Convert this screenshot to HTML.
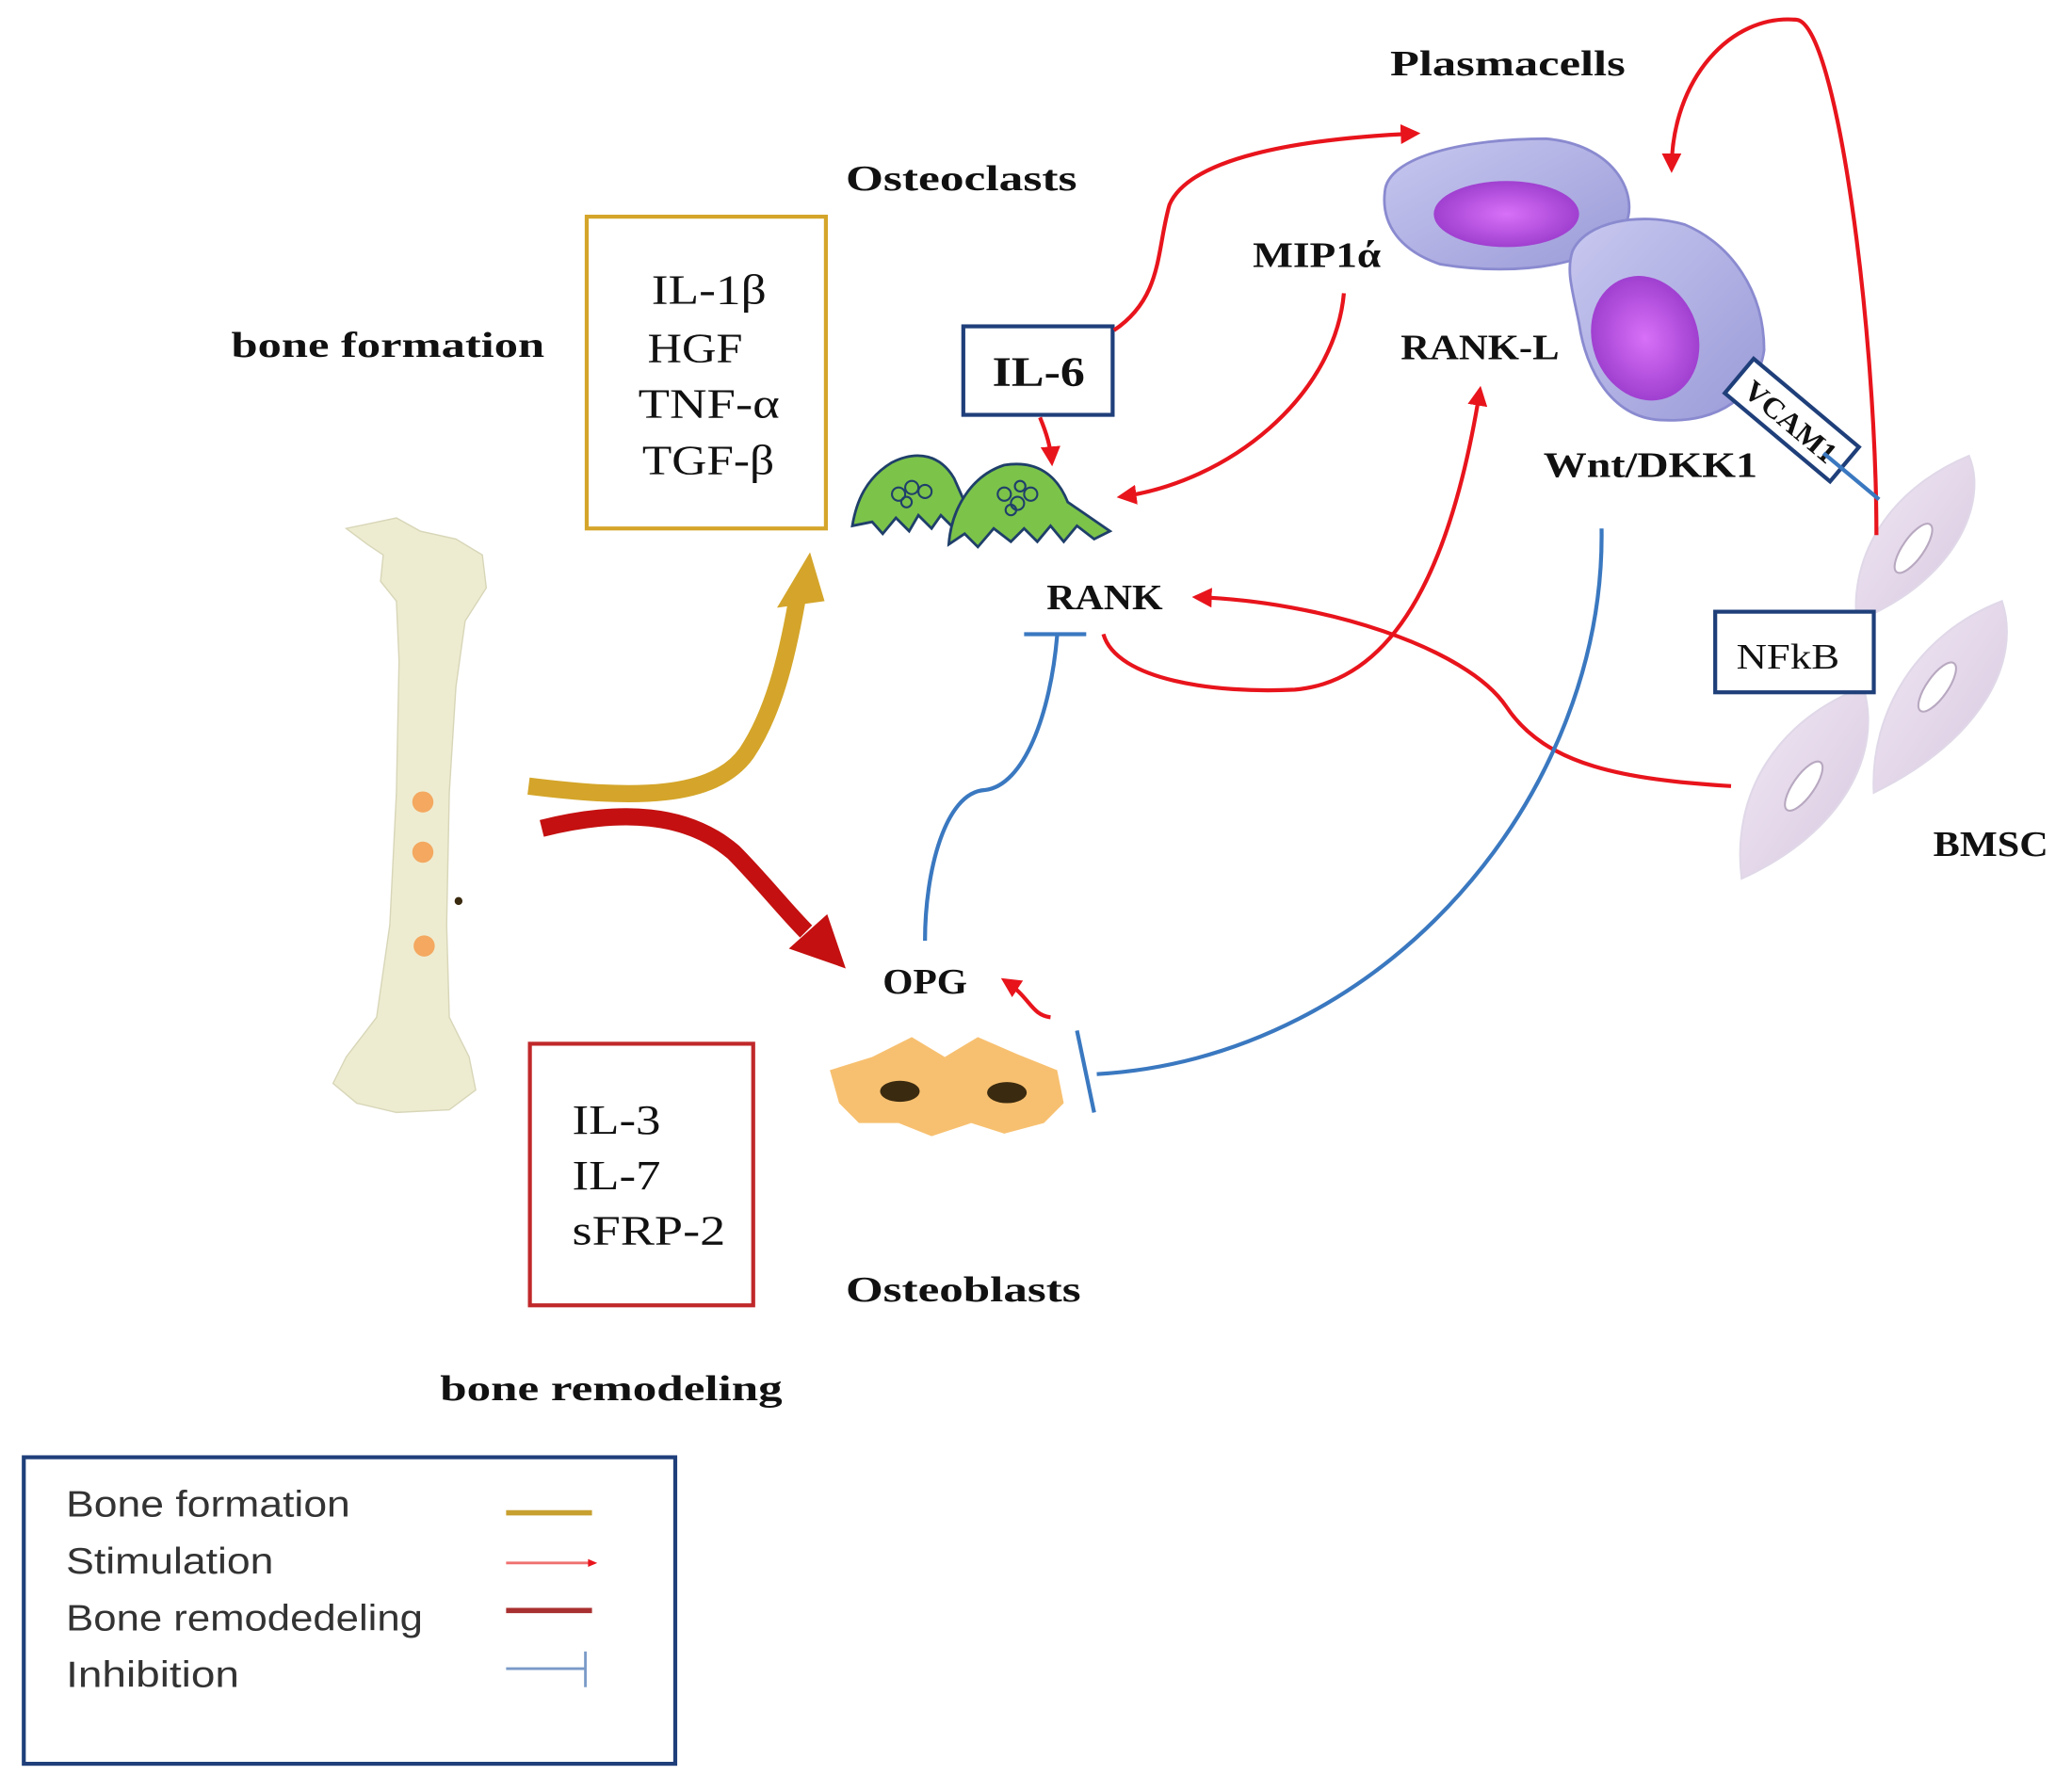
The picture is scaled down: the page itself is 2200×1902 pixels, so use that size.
<!DOCTYPE html>
<html><head><meta charset="utf-8"><style>
html,body{margin:0;padding:0;background:#fff;width:2200px;height:1902px;overflow:hidden}
svg{display:block}
.b{font-family:"Liberation Serif",serif;font-weight:bold;font-size:27px;fill:#111}
.r{font-family:"Liberation Serif",serif;font-size:32px;fill:#111}
.l{font-family:"Liberation Sans",sans-serif;font-size:28px;fill:#333}
</style></head><body>
<svg width="2200" height="1902" viewBox="0 0 1568 1355.6" preserveAspectRatio="none" xmlns="http://www.w3.org/2000/svg">
<defs>
<marker id="ar" viewBox="0 0 10 10" refX="8" refY="5" markerWidth="5" markerHeight="5" orient="auto"><path d="M0,0L10,5L0,10z" fill="#e8141c"/></marker>
<linearGradient id="pc" x1="0" y1="0" x2="1" y2="1"><stop offset="0" stop-color="#c8c8f0"/><stop offset="1" stop-color="#9a9ad8"/></linearGradient>
<radialGradient id="nu"><stop offset="0" stop-color="#d870f8"/><stop offset="1" stop-color="#a040d0"/></radialGradient>
<linearGradient id="bm" x1="0" y1="0" x2="1" y2="1"><stop offset="0" stop-color="#f0e8f4"/><stop offset="1" stop-color="#d8c8e0"/></linearGradient>
</defs>

<path d="M262,400 L300,392 L318,402 L345,408 L365,420 L368,445 L352,470 L345,520 L340,600 L338,700 L340,770 L355,800 L360,825 L340,840 L300,842 L270,835 L252,820 L262,800 L285,770 L295,700 L300,600 L302,500 L300,455 L288,440 L290,420 L278,412 Z" fill="#eeecd0" stroke="#d8d6b8" stroke-width="1"/>
<circle cx="320" cy="607" r="8" fill="#f4a860"/><circle cx="320" cy="645" r="8" fill="#f4a860"/><circle cx="321" cy="716" r="8" fill="#f4a860"/>
<circle cx="347" cy="682" r="3" fill="#3a2a10"/>

<rect x="444" y="164" width="181" height="236" fill="none" stroke="#d4a52a" stroke-width="3"/>
<text class="r" x="493" y="230" textLength="87" lengthAdjust="spacingAndGlyphs">IL-1β</text>
<text class="r" x="490" y="274" textLength="72" lengthAdjust="spacingAndGlyphs">HGF</text>
<text class="r" x="483" y="316" textLength="107" lengthAdjust="spacingAndGlyphs">TNF-α</text>
<text class="r" x="486" y="359" textLength="100" lengthAdjust="spacingAndGlyphs">TGF-β</text>

<rect x="401" y="790" width="169" height="198" fill="none" stroke="#c0282a" stroke-width="3"/>
<text class="r" x="433" y="858" textLength="67" lengthAdjust="spacingAndGlyphs">IL-3</text>
<text class="r" x="433" y="900" textLength="67" lengthAdjust="spacingAndGlyphs">IL-7</text>
<text class="r" x="433" y="942" textLength="116" lengthAdjust="spacingAndGlyphs">sFRP-2</text>

<path d="M400,595 C480,605 540,605 565,570 C585,540 595,500 603,455" fill="none" stroke="#d4a52a" stroke-width="13"/>
<path d="M588,460 L624,455 L613,418 Z" fill="#d4a52a"/>
<path d="M410,627 C470,612 520,615 555,645 C575,665 595,690 610,705" fill="none" stroke="#c41010" stroke-width="13"/>
<path d="M597,718 L640,733 L626,692 Z" fill="#c41010"/>

<path d="M645,398 C648,380 655,362 675,350 C695,340 712,345 722,362 L730,380 L720,398 L712,390 L705,400 L695,390 L688,402 L678,392 L668,404 L660,395 Z" fill="#7cc34a" stroke="#1f3f6a" stroke-width="2"/>
<path d="M718,412 C720,385 735,360 760,352 C785,348 800,360 808,380 L840,402 L828,408 L815,398 L805,410 L795,398 L785,410 L775,400 L765,410 L752,400 L740,414 L730,404 Z" fill="#7cc34a" stroke="#1f3f6a" stroke-width="2"/>
<g fill="none" stroke="#1f3f6a" stroke-width="1.5"><circle cx="680" cy="374" r="5"/><circle cx="690" cy="369" r="5"/><circle cx="700" cy="372" r="5"/><circle cx="686" cy="380" r="4"/><circle cx="760" cy="374" r="5"/><circle cx="770" cy="381" r="5"/><circle cx="780" cy="374" r="5"/><circle cx="772" cy="368" r="4"/><circle cx="765" cy="386" r="4"/></g>

<path d="M628,810 L660,800 L690,785 L715,800 L740,785 L770,798 L800,810 L805,835 L790,850 L760,858 L735,850 L705,860 L680,850 L650,850 L635,835 Z" fill="#f7c070"/>
<ellipse cx="681" cy="826" rx="15" ry="8" fill="#3a2a10"/><ellipse cx="762" cy="827" rx="15" ry="8" fill="#3a2a10"/>

<path d="M1048,145 C1050,118 1110,105 1170,105 C1225,110 1240,150 1230,170 C1215,200 1150,210 1090,200 C1060,190 1045,170 1048,145 Z" fill="url(#pc)" stroke="#8a8ad0" stroke-width="2"/>
<ellipse cx="1140" cy="162" rx="55" ry="25" fill="url(#nu)"/>
<path d="M1190,190 C1200,168 1240,160 1275,170 C1310,185 1335,220 1335,265 C1330,300 1300,320 1260,318 C1220,318 1200,280 1195,245 C1190,220 1185,205 1190,190 Z" fill="url(#pc)" stroke="#8a8ad0" stroke-width="2"/>
<ellipse cx="1245" cy="256" rx="40" ry="48" transform="rotate(-20 1245 256)" fill="url(#nu)"/>

<g fill="url(#bm)" stroke="#e0d8e8" stroke-width="1.5">
<path d="M1405,470 C1400,420 1430,370 1490,345 C1505,380 1480,440 1405,470 Z"/>
<path d="M1418,600 C1415,540 1450,480 1515,455 C1530,500 1500,560 1418,600 Z"/>
<path d="M1318,665 C1310,600 1345,545 1410,520 C1425,570 1395,630 1318,665 Z"/>
</g>
<g fill="#fff" stroke="#b8a8c0" stroke-width="1.5"><ellipse cx="1448" cy="415" rx="8" ry="22" transform="rotate(35 1448 415)"/><ellipse cx="1466" cy="520" rx="8" ry="22" transform="rotate(35 1466 520)"/><ellipse cx="1365" cy="595" rx="8" ry="22" transform="rotate(35 1365 595)"/></g>

<rect x="729" y="247" width="113" height="67" fill="#fff" stroke="#1f3f7a" stroke-width="3"/>
<text class="b" x="751" y="292" textLength="70" lengthAdjust="spacingAndGlyphs" style="font-size:32px">IL-6</text>
<rect x="1298" y="463" width="120" height="61" fill="#fff" stroke="#1f3f7a" stroke-width="3"/>
<text class="r" x="1314" y="506" textLength="78" lengthAdjust="spacingAndGlyphs" style="font-size:27px">NFkB</text>
<g transform="translate(1356,318) rotate(40)">
<rect x="-52" y="-17" width="104" height="34" fill="#fff" stroke="#1f3f7a" stroke-width="3"/>
<text class="b" x="-42" y="9" textLength="84" lengthAdjust="spacingAndGlyphs" style="font-size:22px">VCAM1</text></g>

<g fill="none" stroke="#e8141c" stroke-width="3" marker-end="url(#ar)">
<path d="M843,250 C880,225 875,190 885,155 C900,120 980,105 1072,101"/>
<path d="M787,316 C792,328 795,338 796,350"/>
<path d="M1017,222 C1010,300 930,365 848,376"/>
<path d="M835,480 C845,515 920,525 980,522 C1060,515 1100,420 1120,295"/>
<path d="M1310,595 C1230,590 1170,580 1140,535 C1110,490 1000,455 905,452"/>
<path d="M1420,405 C1420,250 1390,20 1360,15 C1310,10 1265,60 1265,128"/>
<path d="M795,770 C780,768 780,755 760,742"/>
</g>

<g fill="none" stroke="#3a78c0" stroke-width="3">
<path d="M700,712 C700,660 715,600 745,598 C775,595 795,540 800,481"/>
<path d="M775,480 L822,480"/>
<path d="M1212,400 C1215,600 1050,800 830,813"/>
<path d="M815,780 L828,842"/>
<path d="M1380,343 L1422,378"/>
</g>

<text class="b" x="640" y="144" textLength="175" lengthAdjust="spacingAndGlyphs">Osteoclasts</text>
<text class="b" x="1052" y="57" textLength="178" lengthAdjust="spacingAndGlyphs">Plasmacells</text>
<text class="b" x="175" y="270" textLength="237" lengthAdjust="spacingAndGlyphs">bone formation</text>
<text class="b" x="948" y="202" textLength="97" lengthAdjust="spacingAndGlyphs">MIP1ά</text>
<text class="b" x="1060" y="272" textLength="120" lengthAdjust="spacingAndGlyphs">RANK-L</text>
<text class="b" x="1168" y="361" textLength="162" lengthAdjust="spacingAndGlyphs">Wnt/DKK1</text>
<text class="b" x="792" y="461" textLength="88" lengthAdjust="spacingAndGlyphs">RANK</text>
<text class="b" x="1463" y="648" textLength="87" lengthAdjust="spacingAndGlyphs">BMSC</text>
<text class="b" x="668" y="752" textLength="64" lengthAdjust="spacingAndGlyphs">OPG</text>
<text class="b" x="640" y="985" textLength="178" lengthAdjust="spacingAndGlyphs">Osteoblasts</text>
<text class="b" x="333" y="1060" textLength="259" lengthAdjust="spacingAndGlyphs">bone remodeling</text>

<rect x="18" y="1103" width="493" height="232" fill="none" stroke="#1f3f7a" stroke-width="3"/>
<text class="l" x="50" y="1148" textLength="215" lengthAdjust="spacingAndGlyphs">Bone formation</text>
<text class="l" x="50" y="1191" textLength="157" lengthAdjust="spacingAndGlyphs">Stimulation</text>
<text class="l" x="50" y="1234" textLength="270" lengthAdjust="spacingAndGlyphs">Bone remodedeling</text>
<text class="l" x="50" y="1277" textLength="131" lengthAdjust="spacingAndGlyphs">Inhibition</text>
<line x1="383" y1="1145" x2="448" y2="1145" stroke="#c8a030" stroke-width="4"/>
<line x1="383" y1="1183" x2="446" y2="1183" stroke="#f07070" stroke-width="2"/>
<path d="M445,1180 L452,1183 L445,1186Z" fill="#e8141c"/>
<line x1="383" y1="1219" x2="448" y2="1219" stroke="#a83030" stroke-width="4"/>
<line x1="383" y1="1263" x2="443" y2="1263" stroke="#7a9ac8" stroke-width="2"/>
<line x1="443" y1="1250" x2="443" y2="1277" stroke="#7a9ac8" stroke-width="2"/>
</svg>
</body></html>
